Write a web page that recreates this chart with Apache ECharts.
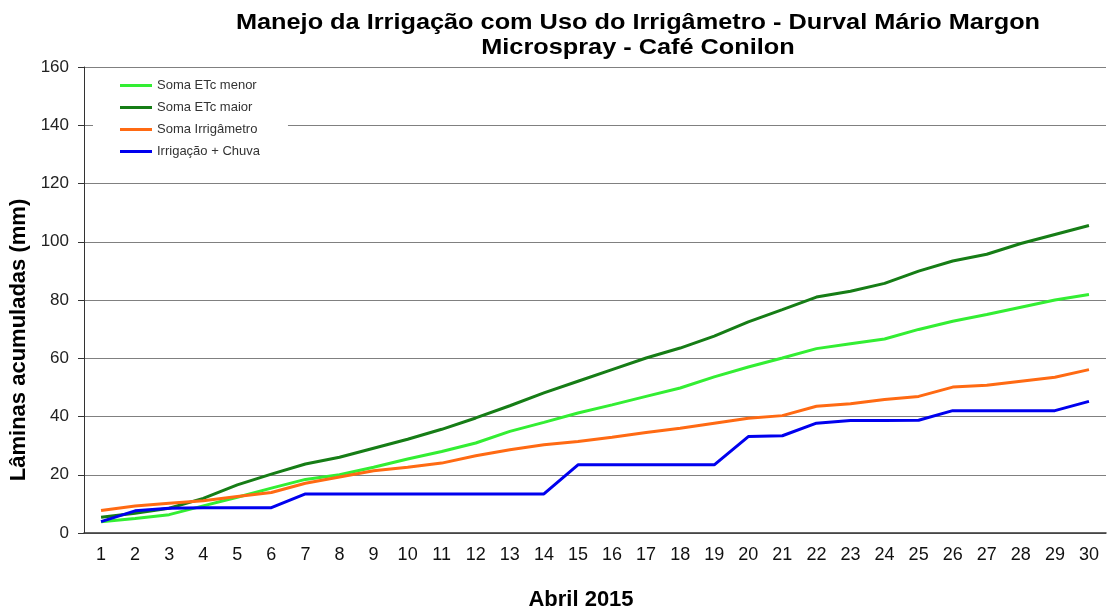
<!DOCTYPE html>
<html>
<head>
<meta charset="utf-8">
<title>Manejo da Irrigação - Durval Mário Margon</title>
<script src="https://cdn.jsdelivr.net/npm/echarts@6/dist/echarts.min.js"></script>
<style>
  html, body { margin: 0; padding: 0; background: #fff; }
  #chart { width: 1108px; height: 611px; }
</style>
</head>
<body>
<div id="chart"></div>
<script>
// dias de abril
var days = ['1', '2', '3', '4', '5', '6', '7', '8', '9', '10',
  '11', '12', '13', '14', '15', '16', '17', '18', '19', '20',
  '21', '22', '23', '24', '25', '26', '27', '28', '29', '30'];

// valores (mm acumulados)
var etcMenor = [3.9, 5.0, 6.3, 9.3, 12.3, 15.4, 18.4, 20.0, 22.6, 25.4,
  28.0, 30.9, 34.9, 38.0, 41.2, 44.0, 46.9, 49.8, 53.6, 57.0,
  60.1, 63.3, 65.0, 66.6, 69.9, 72.7, 75.0, 77.5, 80.0, 81.9];
var etcMaior = [5.4, 6.8, 8.5, 11.9, 16.5, 20.2, 23.7, 26.0, 29.1, 32.2,
  35.6, 39.5, 43.7, 48.1, 52.1, 56.1, 60.1, 63.5, 67.6, 72.5,
  76.7, 81.0, 83.0, 85.7, 89.9, 93.4, 95.7, 99.4, 102.5, 105.6];
var irrigametro = [7.7, 9.3, 10.2, 11.1, 12.5, 13.9, 17.1, 19.2, 21.4, 22.6,
  24.0, 26.5, 28.6, 30.3, 31.4, 32.9, 34.5, 36.0, 37.7, 39.4,
  40.3, 43.5, 44.4, 45.8, 46.9, 50.1, 50.7, 52.1, 53.5, 56.1];
var irrigChuva = [3.9, 7.6, 8.5, 8.7, 8.7, 8.7, 13.4, 13.4, 13.4, 13.4,
  13.4, 13.4, 13.4, 13.4, 23.4, 23.4, 23.4, 23.4, 23.4, 33.1,
  33.4, 37.7, 38.6, 38.6, 38.7, 42.0, 42.0, 42.0, 42.0, 45.2];

var font = 'Liberation Sans, Arial, sans-serif';

function lineSeries(name, data, color) {
  return {
    name: name,
    type: 'line',
    data: data,
    symbol: 'none',
    lineStyle: { color: color, width: 3 },
    itemStyle: { color: color }
  };
}

var chart = echarts.init(document.getElementById('chart'));

chart.setOption({
  animation: false,
  backgroundColor: '#fff',
  textStyle: { fontFamily: font },
  graphic: [
    {
      type: 'text', x: 638, y: 23, scaleX: 1.15,
      style: {
        text: 'Manejo da Irrigação com Uso do Irrigâmetro - Durval Mário Margon',
        font: 'bold 22px ' + font, fill: '#000', align: 'center', verticalAlign: 'middle'
      }
    },
    {
      type: 'text', x: 638, y: 48, scaleX: 1.15,
      style: {
        text: 'Microspray - Café Conilon',
        font: 'bold 22px ' + font, fill: '#000', align: 'center', verticalAlign: 'middle'
      }
    }
  ],
  legend: {
    orient: 'vertical',
    left: 93,
    top: 70,
    padding: [9, 28, 20, 27],
    backgroundColor: '#fff',
    icon: 'rect',
    itemWidth: 32,
    itemHeight: 3,
    itemGap: 9,
    textStyle: { fontSize: 13, color: '#333' }
  },
  grid: {
    left: 84, right: 2, top: 67, bottom: 78,
    outerBoundsMode: 'none'
  },
  xAxis: {
    type: 'category',
    data: days,
    boundaryGap: true,
    name: 'Abril 2015',
    nameLocation: 'middle',
    nameGap: 56,
    nameTextStyle: { fontSize: 22, fontWeight: 'bold', color: '#000', padding: [0, 28, 0, 0] },
    axisLine: { lineStyle: { color: '#333', width: 1.5 } },
    axisTick: { interval: 0, length: 6, lineStyle: { color: '#333' } },
    axisLabel: { interval: 0, fontSize: 18, color: '#111', margin: 13 },
    splitLine: { show: false }
  },
  yAxis: {
    type: 'value',
    min: 0, max: 160, interval: 20,
    name: 'Lâminas acumuladas (mm)',
    nameLocation: 'middle',
    nameGap: 46,
    nameTextStyle: { fontSize: 22, fontWeight: 'bold', color: '#000', padding: [0, 80, 0, 0] },
    axisLine: { show: true, lineStyle: { color: '#333' } },
    axisTick: { show: true, length: 6, lineStyle: { color: '#333' } },
    axisLabel: { fontSize: 17, color: '#222', margin: 15 },
    splitLine: { lineStyle: { color: '#808080', width: 1 } }
  },
  series: [
    lineSeries('Soma ETc menor', etcMenor, '#33ee33'),
    lineSeries('Soma ETc maior', etcMaior, '#167d16'),
    lineSeries('Soma Irrigâmetro', irrigametro, '#ff6a13'),
    lineSeries('Irrigação + Chuva', irrigChuva, '#0000ee')
  ]
});
</script>
</body>
</html>
